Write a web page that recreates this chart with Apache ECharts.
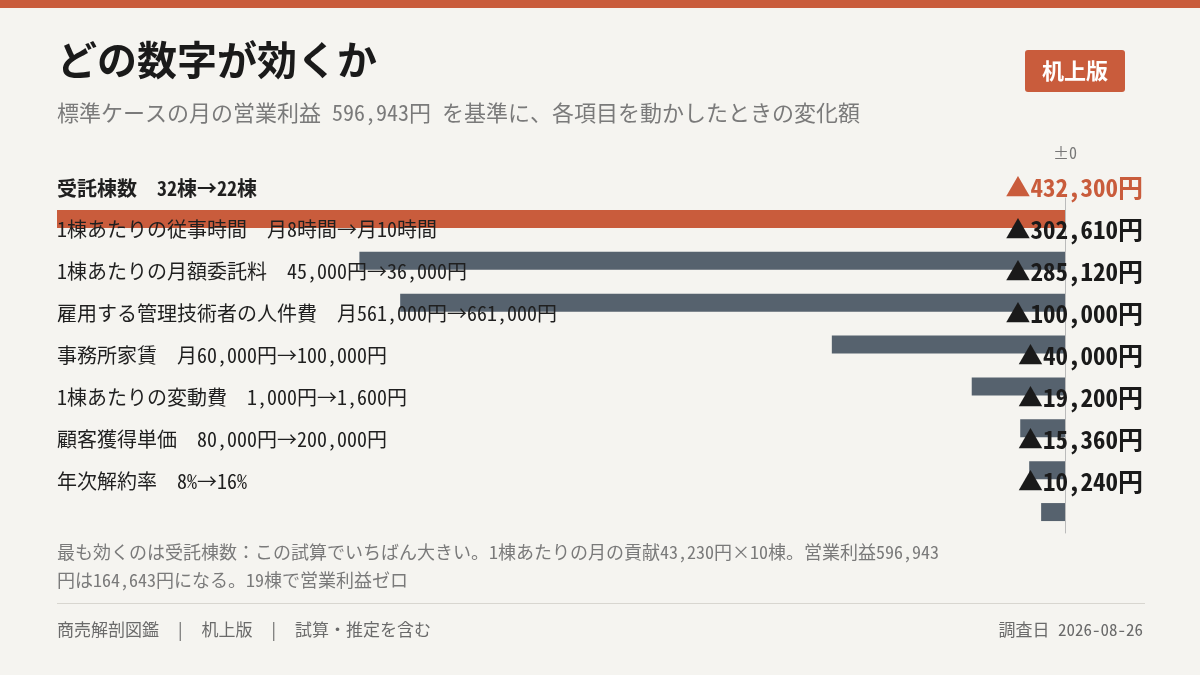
<!DOCTYPE html>
<html><head><meta charset="utf-8">
<script src="https://cdn.jsdelivr.net/npm/echarts@6/dist/echarts.min.js"></script>
<style>html,body{margin:0;padding:0;background:#f5f4f0}#c{width:1200px;height:675px}</style>
</head><body><div id="c"></div>
<script>
const categories = ['受託棟数　32棟→22棟','1棟あたりの従事時間　月8時間→月10時間','1棟あたりの月額委託料　45,000円→36,000円','雇用する管理技術者の人件費　月561,000円→661,000円','事務所家賃　月60,000円→100,000円','1棟あたりの変動費　1,000円→1,600円','顧客獲得単価　80,000円→200,000円','年次解約率　8%→16%'];
const impacts = [432300,302610,285120,100000,40000,19200,15360,10240];
const valueLabels = ['▲432,300円','▲302,610円','▲285,120円','▲100,000円','▲40,000円','▲19,200円','▲15,360円','▲10,240円'];
const F = "'Noto Sans Mono CJK JP','Noto Sans CJK JP','Noto Sans',sans-serif";
const chart = echarts.init(document.getElementById('c'));
chart.setOption({
  backgroundColor:'#f5f4f0',
  animation:false,
  grid:{left:57,right:135,top:198,bottom:142},
  xAxis:{type:'value',inverse:true,min:0,max:432300,show:false},
  yAxis:[
    {type:'category',data:categories,inverse:true,position:'left',z:10,
     axisLine:{show:false},axisTick:{show:false},
     axisLabel:{align:'left',margin:0,padding:[0,0,62,0],fontFamily:F,fontSize:20,color:'#1f1f1f',
       formatter:(v,i)=>i===0?'{b|'+v+'}':v,rich:{b:{fontWeight:'bold',fontSize:20,fontFamily:F,color:'#1f1f1f'}}}},
    {type:'category',data:valueLabels,inverse:true,position:'right',z:10,
     axisLine:{show:true,lineStyle:{color:'#bbbbbb',width:1}},axisTick:{show:false},
     axisLabel:{align:'right',margin:78,padding:[0,0,62,0],fontFamily:F,fontSize:25,fontWeight:'bold',color:'#1a1a1a',
       formatter:(v,i)=>i===0?'{o|'+v+'}':v,rich:{o:{fontWeight:'bold',fontSize:25,fontFamily:F,color:'#c95c3c'}}}}
  ],
  series:[{type:'bar',barWidth:18,z:1,
    data:impacts.map((v,i)=>({value:v,itemStyle:{color:i===0?'#c95c3c':'#56626e'}}))}],
  graphic:[
    {type:'rect',shape:{x:0,y:0,width:1200,height:8},style:{fill:'#c95c3c'}},
    {type:'text',left:57,top:40,style:{text:'どの数字が効くか',font:'bold 40px '+F,fill:'#1a1a1a'}},
    {type:'text',left:57,top:102,style:{text:'標準ケースの月の営業利益 596,943円 を基準に、各項目を動かしたときの変化額',font:'22px '+F,fill:'#7a7a7a'}},
    {type:'rect',shape:{x:1025,y:50,width:100,height:42,r:3},style:{fill:'#c95c3c'}},
    {type:'text',x:1075,y:71,style:{text:'机上版',font:'bold 22px '+F,fill:'#ffffff',align:'center',verticalAlign:'middle'}},
    {type:'text',x:1065,y:153,style:{text:'±0',font:'16px '+F,fill:'#777',align:'center',verticalAlign:'middle'}},
    {type:'text',left:57,top:538,style:{text:'最も効くのは受託棟数：この試算でいちばん大きい。1棟あたりの月の貢献43,230円×10棟。営業利益596,943\n円は164,643円になる。19棟で営業利益ゼロ',font:'18px '+F,fill:'#7a7a7a',lineHeight:28}},
    {type:'rect',shape:{x:57,y:603,width:1088,height:1},style:{fill:'#d8d6d0'}},
    {type:'text',left:57,top:621,style:{text:'商売解剖図鑑　|　机上版　|　試算・推定を含む',font:'17px '+F,fill:'#6a6a6a'}},
    {type:'text',right:57,top:621,style:{text:'調査日 2026-08-26',font:'17px '+F,fill:'#6a6a6a',align:'right'}}
  ]
});
</script></body></html>
